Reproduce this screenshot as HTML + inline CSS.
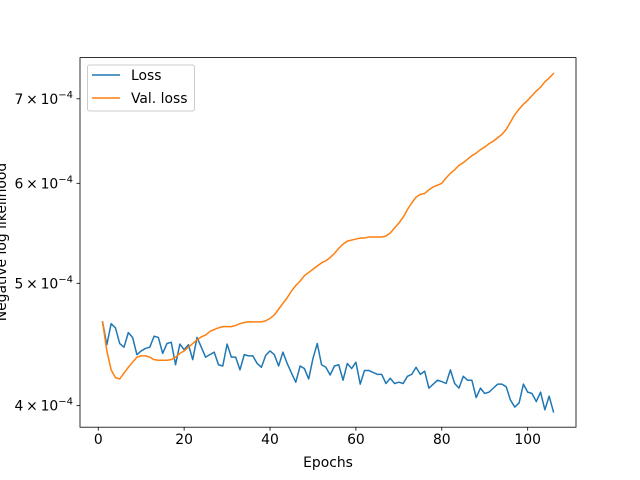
<!DOCTYPE html>
<html><head><meta charset="utf-8"><style>
body{margin:0;background:#fff;}
svg{display:block;font-family:"DejaVu Sans","Liberation Sans",sans-serif;}
</style></head><body>
<svg id="chart" width="640" height="480" viewBox="0 0 640 480">
<rect x="0" y="0" width="640" height="480" fill="#fff"/>
<g id="plot"></g>
</svg>
<script>
const epochs = Array.from({length:106},(_,i)=>i+1);
const lossValues = [4.66,4.47,4.645,4.61,4.48,4.45,4.57,4.53,4.39,4.42,4.44,4.45,4.54,4.53,4.40,4.48,4.49,4.31,4.475,4.43,
4.47,4.35,4.53,4.45,4.37,4.39,4.41,4.31,4.30,4.475,4.37,4.37,4.27,4.39,4.38,4.38,4.32,4.29,4.385,4.42,
4.39,4.30,4.41,4.32,4.245,4.175,4.30,4.28,4.20,4.36,4.48,4.31,4.29,4.23,4.30,4.31,4.19,4.32,4.28,4.33,
4.16,4.265,4.265,4.25,4.235,4.235,4.165,4.205,4.165,4.175,4.165,4.22,4.235,4.29,4.235,4.26,4.13,4.16,4.19,4.18,
4.165,4.27,4.165,4.13,4.22,4.19,4.19,4.06,4.13,4.09,4.10,4.13,4.16,4.16,4.14,4.04,3.99,4.02,4.16,4.10,
4.09,4.03,4.10,3.97,4.07,3.955];
const valLossValues = [4.66,4.42,4.27,4.21,4.20,4.245,4.29,4.33,4.37,4.38,4.38,4.37,4.35,4.345,4.345,4.345,4.35,4.37,4.40,4.42,
4.45,4.48,4.51,4.535,4.55,4.58,4.595,4.61,4.62,4.62,4.62,4.63,4.645,4.655,4.66,4.66,4.66,4.66,4.67,4.69,
4.72,4.77,4.82,4.87,4.93,4.98,5.02,5.07,5.10,5.13,5.16,5.19,5.21,5.24,5.28,5.33,5.37,5.40,5.41,5.42,
5.43,5.43,5.44,5.44,5.44,5.44,5.45,5.48,5.53,5.58,5.64,5.72,5.79,5.85,5.88,5.89,5.93,5.96,5.98,6.00,
6.06,6.11,6.15,6.20,6.23,6.27,6.31,6.34,6.38,6.41,6.45,6.48,6.52,6.56,6.62,6.71,6.80,6.87,6.93,6.98,
7.04,7.10,7.15,7.22,7.27,7.33];
const xTicks = [0,20,40,60,80,100];
const yTicks = [4,5,6,7];
const yTickMant = ["4","5","6","7"];

const NS="http://www.w3.org/2000/svg";
const L=80,R=576,T=57.6,B=427.2;
const xMin=-4.25,xMax=111.25;
const yMin=3.846,yMax=7.546;
function sx(v){return L+(v-xMin)/(xMax-xMin)*(R-L);}
function sy(v){return B-(Math.log10(v)-Math.log10(yMin))/(Math.log10(yMax)-Math.log10(yMin))*(B-T);}
const g=document.getElementById('plot');
function mk(tag,attrs,parent){const e=document.createElementNS(NS,tag);for(const k in attrs)e.setAttribute(k,attrs[k]);(parent||g).appendChild(e);return e;}

function series(vals,color,name){
  const d=vals.map((v,i)=>(i?'L':'M')+sx(epochs[i]).toFixed(2)+' '+sy(v).toFixed(2)).join(' ');
  const p=mk('path',{d:d,fill:'none',stroke:color,'stroke-width':1.5,'stroke-linejoin':'round','stroke-linecap':'square'});
  
  
}
series(lossValues,'#1f77b4','loss-line');
series(valLossValues,'#ff7f0e','val-loss-line');

const frame=mk('rect',{x:L,y:T,width:R-L,height:B-T,fill:'none',stroke:'#000','stroke-width':0.8});



xTicks.forEach(t=>{
  const x=sx(t);
  const tk=mk('line',{x1:x,x2:x,y1:B,y2:B+3.5,stroke:'#000','stroke-width':0.8});
  
  
  const tx=mk('text',{x:x,y:B+17,'text-anchor':'middle','font-size':'13.9px',fill:'#000'});
  tx.textContent=t;
  
  
});
yTicks.forEach((t,i)=>{
  const y=sy(t);
  const tk=mk('line',{x1:L-3.5,x2:L,y1:y,y2:y,stroke:'#000','stroke-width':0.8});
  
  
  const tx=mk('text',{x:L-7,y:y+5,'text-anchor':'end','font-size':'13.9px',fill:'#000'});
  tx.innerHTML=yTickMant[i]+'\u2009\u00d7\u200910<tspan dy="-6" font-size="10px">\u22124</tspan>';
  
  
});

const xl=mk('text',{x:(L+R)/2,y:467,'text-anchor':'middle','font-size':'13.9px',fill:'#000'});
xl.textContent='Epochs';


const yl=mk('text',{x:0,y:0,'text-anchor':'middle','font-size':'13.9px',fill:'#000',transform:'translate(6,242) rotate(-90)'});
yl.textContent='Negative log likelihood';



const lg=mk('g',{});


mk('rect',{x:87.5,y:65,width:107,height:46,rx:2,fill:'#fff','fill-opacity':0.8,stroke:'#ccc','stroke-width':1},lg);
[['Loss','#1f77b4',75],['Val. loss','#ff7f0e',98]].forEach(([lab,c,y],i)=>{
  const ln=mk('line',{x1:92,x2:120,y1:y,y2:y,stroke:c,'stroke-width':1.5},lg);
  
  
  const t=mk('text',{x:131,y:y+5,'font-size':'13.9px',fill:'#000'},lg);
  t.textContent=lab;
  
  
});
</script>
</body></html>
